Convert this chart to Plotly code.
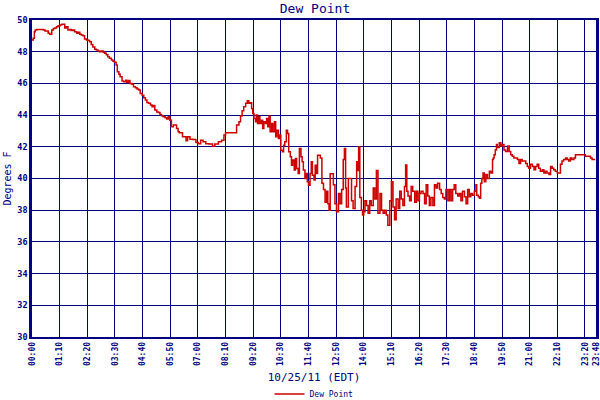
import plotly.graph_objects as go

# Time of observation (minutes after midnight, 10/25/11 EDT)
minutes = [
    0, 3, 6, 8, 12, 24, 29, 33, 37, 41, 45, 50, 54, 58, 62, 66, 71, 75, 79, 83,
    87, 91, 96, 100, 104, 108, 113, 117, 121, 125, 129, 133, 138, 142, 146, 150,
    154, 159, 163, 167, 171, 175, 180, 184, 188, 192, 196, 201, 205, 209, 213,
    216, 220, 223, 228, 232, 237, 240, 244, 248, 253, 257, 262, 266, 270, 274,
    279, 283, 287, 291, 295, 300, 304, 307, 311, 316, 320, 324, 328, 332, 337,
    341, 345, 349, 353, 358, 362, 366, 370,
    373, 381, 390, 394, 400, 408, 415, 421, 427, 433, 440, 448, 457, 463, 472,
    480, 486, 490, 503, 515, 518, 524, 528, 532, 536, 541, 545, 549, 553, 556,
    559, 562, 566, 568, 571, 574, 577, 581, 584, 587, 591, 594, 597, 600, 603,
    607, 610, 614, 617, 620, 624, 627, 630, 634, 637, 640, 644, 647, 650, 654,
    657, 660, 664, 667, 670, 674, 677, 681, 684, 687, 691, 694, 697, 700, 704,
    707, 710, 714, 717, 720, 723,
    730, 734, 738, 742, 746, 749, 752, 755, 759, 763, 767, 771, 776, 780, 784,
    788, 791, 794, 796, 801, 805, 809, 813, 818, 822, 824, 827, 830, 834, 837,
    840, 843, 847, 851, 855, 859, 864, 868, 872, 876, 881, 885, 889, 893, 897,
    901, 906, 910, 914, 918, 922, 927, 931, 935, 939, 943, 946, 949, 952, 956,
    960, 964, 969, 973, 977, 981, 985, 990, 994, 998, 1002, 1006, 1010, 1015,
    1019, 1023, 1027, 1032, 1036, 1040, 1044, 1048, 1053, 1057, 1061, 1065,
    1069, 1073, 1078,
    1082, 1086, 1090, 1095, 1099, 1103, 1107, 1111, 1115, 1120, 1124, 1126,
    1130, 1133, 1136, 1139, 1142, 1145, 1149, 1153, 1158, 1162, 1166, 1168,
    1170, 1173, 1176, 1178, 1183, 1187, 1191, 1195, 1199, 1204, 1208, 1212,
    1216, 1220, 1224, 1229, 1233, 1237, 1241, 1246, 1250, 1254, 1258, 1262,
    1267, 1271, 1275, 1279, 1283, 1287, 1292, 1296, 1300, 1304, 1309, 1313,
    1317, 1321, 1325, 1330, 1334, 1338, 1342, 1346, 1351, 1355, 1359, 1363,
    1367, 1372, 1376, 1388, 1397, 1401, 1409, 1414, 1418, 1426,
]

# Dew point (degrees F)
dew_point = [
    48.74, 48.85, 49.26, 49.37, 49.4, 49.4, 49.37, 49.3, 49.3, 49.16, 49.1,
    49.37, 49.47, 49.5, 49.58, 49.64, 49.68, 49.73, 49.73, 49.5, 49.58, 49.37,
    49.4, 49.33, 49.37, 49.26, 49.16, 49.22, 49.1, 49.05, 49.0, 48.8, 48.74,
    48.7, 48.63, 48.46, 48.3, 48.15, 48.1, 48.04, 48.0, 48.04, 47.96, 47.9,
    47.8, 47.68, 47.58, 47.47, 47.4, 47.33, 47.16, 46.74, 46.57, 46.42, 46.15,
    46.1, 46.2, 46.06, 46.19, 46.0, 45.94, 45.79, 45.73, 45.64, 45.58, 45.37,
    45.26, 45.1, 44.95, 44.8, 44.74, 44.63, 44.53, 44.6, 44.32, 44.2, 44.17,
    44.04, 43.96, 43.9, 43.83, 43.75, 43.9, 43.68, 43.26, 43.37, 43.37, 43.16,
    42.95,
    42.88, 42.63, 42.38, 42.63, 42.48, 42.46, 42.27, 42.2, 42.42, 42.32, 42.2,
    42.17, 42.04, 42.17, 42.32, 42.42, 42.74, 42.88, 42.88, 42.88, 43.37,
    43.58, 43.94, 44.27, 44.53, 44.74, 44.9, 44.74, 44.78, 44.42, 44.1, 43.79,
    43.58, 44.0, 43.47, 43.9, 43.47, 43.68, 43.16, 43.58, 43.47, 43.79, 43.26,
    43.94, 42.95, 43.47, 42.95, 43.58, 42.63, 43.05, 42.53, 42.74, 41.79,
    41.68, 42.1, 42.32, 43.05, 42.84, 41.68, 41.37, 40.84, 41.16, 40.53, 41.26,
    40.63, 40.32, 41.9, 41.37, 41.05, 40.53, 40.0, 40.32, 39.79, 39.58, 40.32,
    41.05, 40.2, 39.9, 40.84, 40.32, 41.47,
    41.3, 39.7, 39.3, 38.5, 39.2, 38.4, 38.0, 40.3, 40.3, 39.6, 38.4, 37.9,
    39.05, 38.4, 39.3, 41.2, 41.9, 39.4, 38.2, 40.0, 40.0, 38.6, 38.1, 39.5,
    41.05, 40.5, 42.0, 38.8, 38.0, 37.7, 37.9, 38.6, 38.3, 37.8, 38.6, 38.3,
    39.4, 38.7, 40.5, 37.8, 39.05, 38.0, 37.8, 38.0, 37.7, 37.05, 38.6, 39.8,
    38.2, 37.4, 38.7, 38.1, 39.2, 38.7, 38.3, 39.5, 40.85, 39.2, 38.9, 38.6,
    39.5, 39.2, 38.5, 39.2, 38.6, 39.05, 39.2, 39.05, 38.4, 39.6, 38.9, 38.3,
    38.8, 38.3, 39.6, 39.4, 39.7, 39.3, 39.05, 38.8, 38.7, 39.3, 38.6, 39.3,
    38.6, 39.3, 39.6, 39.05, 38.9,
    39.05, 38.6, 39.2, 38.85, 38.4, 39.3, 38.85, 39.05, 38.95, 39.2, 39.6,
    38.95, 38.85, 38.75, 39.7, 40.0, 40.35, 39.8, 40.25, 40.0, 40.45, 40.35,
    41.2, 41.3, 41.5, 41.8, 42.15, 41.95, 42.25, 42.05, 42.15, 41.8, 41.7,
    42.05, 41.7, 41.5, 41.4, 41.3, 41.3, 41.2, 40.95, 41.2, 41.1, 41.1, 40.95,
    40.75, 40.65, 40.9, 40.75, 40.55, 40.75, 40.9, 40.65, 40.45, 40.55, 40.35,
    40.45, 40.35, 40.25, 40.75, 40.65, 40.55, 40.45, 40.35, 40.35, 40.9, 41.1,
    41.2, 41.3, 41.2, 41.1, 41.3, 41.2, 41.3, 41.5, 41.5, 41.5, 41.4, 41.4,
    41.3, 41.2, 41.2,
]

tick_minutes = [0, 70, 140, 210, 280, 350, 420, 490, 560, 630, 700, 770, 840,
                910, 980, 1050, 1120, 1190, 1260, 1330, 1400, 1428]
tick_labels = ["00:00", "01:10", "02:20", "03:30", "04:40", "05:50", "07:00",
               "08:10", "09:20", "10:30", "11:40", "12:50", "14:00", "15:10",
               "16:20", "17:30", "18:40", "19:50", "21:00", "22:10", "23:20",
               "23:48"]

NAVY = "#000080"
RED = "#CC0000"
MONO = "DejaVu Sans Mono"

fig = go.Figure()
fig.add_trace(go.Scatter(
    x=minutes, y=dew_point, mode="lines", name="Dew Point",
    line=dict(color=RED, width=1.5, shape="hv"),
))

fig.update_layout(
    width=600, height=400,
    margin=dict(l=32, r=4, t=20, b=63, autoexpand=False),
    paper_bgcolor="white", plot_bgcolor="white",
    title=dict(text="Dew Point", x=0.525, xanchor="center", y=0.99, yanchor="top",
               font=dict(family=MONO, size=13, color=NAVY)),
    font=dict(family=MONO, color=NAVY),
    showlegend=True,
    legend=dict(orientation="h", x=0.5, xanchor="center", y=-0.18, yanchor="middle",
                font=dict(family=MONO, size=8, color=NAVY),
                bgcolor="rgba(0,0,0,0)"),
)

fig.update_xaxes(
    range=[0, 1428], tickmode="array", tickvals=tick_minutes, ticktext=tick_labels,
    tickangle=-90, tickfont=dict(family=MONO, size=8, color=NAVY, weight="bold"),
    ticklabeloverflow="allow",
    showgrid=True, gridcolor=NAVY, gridwidth=1.2,
    showline=True, linecolor=NAVY, linewidth=1.5, mirror=True,
    ticks="", zeroline=False, automargin=False,
    title=dict(text="10/25/11 (EDT)", font=dict(family=MONO, size=11, color=NAVY),
               standoff=8),
)
fig.update_yaxes(
    range=[30, 50], tickmode="linear", tick0=30, dtick=2,
    tickfont=dict(family=MONO, size=8.5, color=NAVY, weight="bold"),
    showgrid=True, gridcolor=NAVY, gridwidth=1.2,
    showline=True, linecolor=NAVY, linewidth=2.5, mirror=True,
    ticks="", zeroline=False, automargin=False,
    title=dict(text="Degrees F", font=dict(family=MONO, size=10, color=NAVY),
               standoff=4),
)

fig.write_html(
    "out.html",
    config={"displayModeBar": False},
    post_script="document.body.style.margin='0';document.body.style.overflow='hidden';",
)
